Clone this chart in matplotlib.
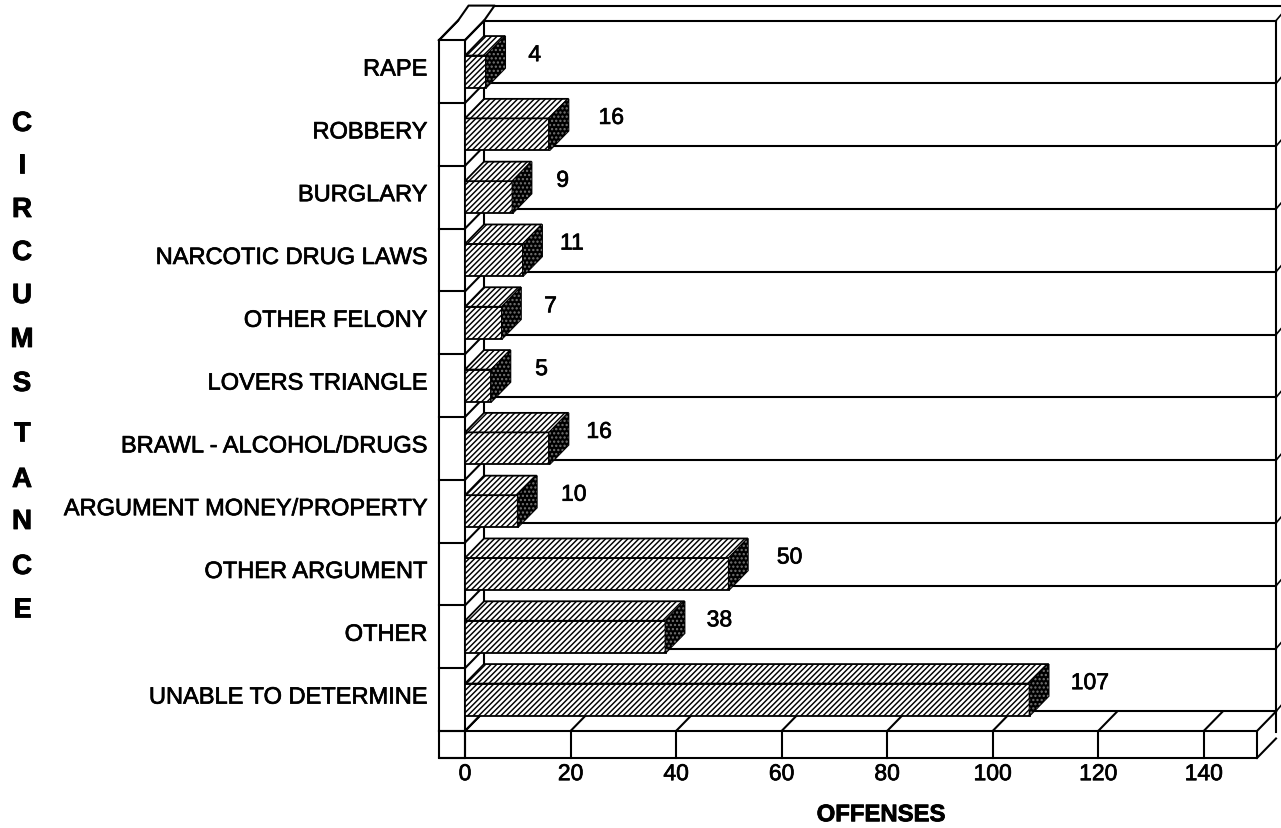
import matplotlib
matplotlib.use('Agg')
import matplotlib.pyplot as plt
from matplotlib.patches import Polygon
from matplotlib.transforms import ScaledTranslation
import matplotlib.patheffects as pe
import numpy as np

plt.rcParams['font.family'] = ['Liberation Sans', 'DejaVu Sans']
plt.rcParams['hatch.linewidth'] = 1.05

categories = ['UNABLE TO DETERMINE', 'OTHER', 'OTHER ARGUMENT', 'ARGUMENT MONEY/PROPERTY',
              'BRAWL - ALCOHOL/DRUGS', 'LOVERS TRIANGLE', 'OTHER FELONY', 'NARCOTIC DRUG LAWS',
              'BURGLARY', 'ROBBERY', 'RAPE']
offenses = [107, 38, 50, 10, 16, 5, 7, 11, 9, 16, 4]
x_ticks = [0, 20, 40, 60, 80, 100, 120, 140]
# gap between bar end and its number, in offenses
label_gap = [7.8, 7.8, 9.1, 8.2, 7.0, 8.3, 8.0, 7.0, 8.3, 9.3, 8.0]
side_title = 'CIRCUMSTANCE'
side_y = [125, 167, 211, 254, 297, 341, 385, 435, 481, 523, 568, 611]

W, H = 1281, 829
fig = plt.figure(figsize=(W / 100, H / 100), dpi=100)
ax = fig.add_axes([439 / W, 1 - 759 / H, (1257 - 439) / W, (759 - 6) / H])
ax.set_xlim(-4.93, 150.1)
ax.set_ylim(-0.93, 11.06)
for s in ax.spines.values():
    s.set_visible(False)

DX = 19 / 5.275      # depth of the 3d box in offenses
DY = 19.5 / 62.8     # depth in rows
LW = 1.5
n = len(categories)
y_pos = np.arange(n)
xl, xr = -4.93, 150.1
y0 = -0.5
y1 = n - 0.5
heavy = [pe.withStroke(linewidth=0.5, foreground='black')]
heavier = [pe.withStroke(linewidth=0.6, foreground='black')]


def line(xs, ys, lw=LW):
    ax.plot(xs, ys, color='black', lw=lw, clip_on=False, solid_capstyle='projecting', zorder=2)


# back wall
for i in range(n + 1):
    yb = y0 + i + DY
    line([DX, xr + DX], [yb, yb])
    line([xr + DX, xr + DX + 1], [yb, yb + 0.1], lw=1.2)
    line([0, DX], [y0 + i, yb])
line([DX, DX], [y0 + DY, y1 + DY])
line([xr + DX, xr + DX], [y0 - 0.33 + DY, y1 + DY])

# top slab
top = y1 + DY + 0.24
line([xl, xl + DX, xl + DX + 2, DX + 2, DX, 0], [y1, y1 + DY, top, top, y1 + DY, y1])
line([DX + 2, 160], [top, top])

# left column
line([xl, xl, 0, 0], [y1, -0.93, -0.93, y1])
line([xl, 0], [y1, y1])
line([xl, xl + DX], [y1, y1 + DY])
for i in range(n):
    line([xl, 0], [y0 + i, y0 + i])

# floor
line([xl, xr, xr, xl], [y0, y0, -0.93, -0.93])
line([xr, xr + DX], [y0, y0 + DY])
line([xr, xr + DX], [-0.93, -0.93 + DY])
for t in x_ticks:
    line([t, t], [-0.93, y0])
    line([t, t + DX], [y0, y0 + DY])

# bars, front face through barh and the depth faces from the same values
bars = ax.barh(y_pos, offenses, height=0.51, facecolor='white', edgecolor='black',
               hatch='//////', linewidth=1.3, zorder=3)
for yy, v, gap in zip(y_pos, offenses, label_gap):
    b, t = yy - 0.255, yy + 0.255
    ax.add_patch(Polygon([(0, t), (DX, t + DY), (v + DX, t + DY), (v, t)], closed=True,
                         facecolor='white', edgecolor='black', hatch='//////', lw=1.3, zorder=3))
    side = [(v, b), (v + DX, b + DY), (v + DX, t + DY), (v, t)]
    ax.add_patch(Polygon(side, closed=True, facecolor='black', edgecolor='black', lw=1.3, zorder=3))
    ax.add_patch(Polygon(side, closed=True, facecolor='none', edgecolor='#777777', hatch='....',
                         lw=0, zorder=4))
    ax.text(v + gap, yy + 0.27, str(v), ha='left', va='center', fontsize=16.5, color='black',
            path_effects=heavy)

ax.set_yticks(y_pos, categories)
ax.set_xticks(x_ticks, [str(t) for t in x_ticks])
ax.tick_params(axis='y', length=0, pad=8.5, labelsize=17, labelcolor='black')
ax.tick_params(axis='x', length=0, pad=3, labelsize=16.5, labelcolor='black')
lift = ScaledTranslation(0, 4.5 / 100, fig.dpi_scale_trans)
for lab in ax.get_yticklabels():
    lab.set_transform(lab.get_transform() + lift)
    lab.set_path_effects(heavy)
for lab in ax.get_xticklabels():
    lab.set_path_effects(heavy)
ax.set_xlabel('OFFENSES', fontsize=17.2, fontweight='bold', labelpad=13, x=(881 - 439) / (1257 - 439),
              path_effects=heavier)

for ch, py in zip(side_title, side_y):
    fig.text(22 / W, 1 - py / H, ch, ha='center', va='center', fontsize=20, fontweight='bold',
             path_effects=heavier)

fig.savefig('out.png', dpi=100)
